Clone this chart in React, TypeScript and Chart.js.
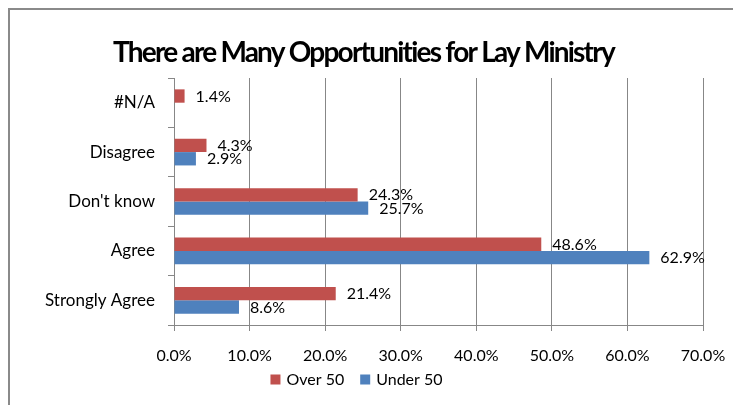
import React, { useEffect, useRef } from "react";
import { Chart, registerables } from "chart.js";

Chart.register(...registerables);

const title = "There are Many Opportunities for Lay Ministry";
const categories = ["#N/A", "Disagree", "Don't know", "Agree", "Strongly Agree"];
const over50 = [1.4, 4.3, 24.3, 48.6, 21.4];
const under50 = [null, 2.9, 25.7, 62.9, 8.6];
const seriesNames = ["Over 50", "Under 50"];
const xTicks = [0, 10, 20, 30, 40, 50, 60, 70];

const RED = "#C0504D";
const BLUE = "#4F81BD";
const GRID = "#878787";
const FONT = "Lato, 'Noto Sans', sans-serif";

const labelPlugin = {
  id: "barValueLabels",
  afterDatasetsDraw(chart: any) {
    const ctx = chart.ctx;
    ctx.save();
    ctx.font = `16px ${FONT}`;
    ctx.fillStyle = "#000";
    ctx.textAlign = "left";
    ctx.textBaseline = "middle";
    chart.data.datasets.forEach((ds: any, di: number) => {
      const meta = chart.getDatasetMeta(di);
      meta.data.forEach((bar: any, i: number) => {
        const v = ds.data[i];
        if (v === null || v === undefined) return;
        ctx.fillText(v.toFixed(1) + "%", bar.x + 11, bar.y + 0.5);
      });
    });
    ctx.restore();
  },
};

const titlePlugin = {
  id: "customTitle",
  afterDraw(chart: any) {
    const ctx = chart.ctx;
    ctx.save();
    ctx.font = `bold 28px ${FONT}`;
    ctx.fillStyle = "#000";
    ctx.textBaseline = "alphabetic";
    ctx.textAlign = "left";
    const natural = ctx.measureText(title).width;
    const target = 503;
    const spacing = (target - natural) / (title.length - 1);
    (ctx as any).letterSpacing = spacing.toFixed(2) + "px";
    const w = ctx.measureText(title).width;
    const cx = 353.5;
    ctx.fillText(title, cx - w / 2, 51.7);
    ctx.restore();
  },
};

const legendPlugin = {
  id: "customLegend",
  afterDraw(chart: any) {
    const ctx = chart.ctx;
    ctx.save();
    ctx.font = `16px ${FONT}`;
    ctx.textBaseline = "middle";
    ctx.textAlign = "left";
    const box = 10;
    const gapText = 6;
    const gapItem = 16;
    const items = chart.data.datasets.map((ds: any) => ({
      text: ds.label,
      color: ds.backgroundColor,
      w: box + gapText + ctx.measureText(ds.label).width,
    }));
    const total = items.reduce((a: number, it: any) => a + it.w, 0) + gapItem * (items.length - 1);
    const cy = 369.5;
    let x = 346.5 - total / 2;
    items.forEach((it: any) => {
      ctx.fillStyle = it.color;
      ctx.fillRect(x, cy - box / 2, box, box);
      ctx.fillStyle = "#000";
      ctx.fillText(it.text, x + box + gapText, cy + 0.5);
      x += it.w + gapItem;
    });
    ctx.restore();
  },
};

export default function App() {
  const ref = useRef<HTMLCanvasElement | null>(null);
  useEffect(() => {
    if (!ref.current) return;
    const chart = new Chart(ref.current, {
      type: "bar",
      data: {
        labels: categories,
        datasets: [
          {
            label: seriesNames[0],
            data: over50,
            backgroundColor: RED,
            borderWidth: 0,
            barPercentage: 1,
            categoryPercentage: 0.54,
          },
          {
            label: seriesNames[1],
            data: under50,
            backgroundColor: BLUE,
            borderWidth: 0,
            barPercentage: 1,
            categoryPercentage: 0.54,
          },
        ],
      },
      options: {
        indexAxis: "y",
        responsive: false,
        animation: false,
        layout: { padding: { top: 68, right: 38, bottom: 30, left: 0 } },
        scales: {
          x: {
            type: "linear",
            min: 0,
            max: 70,
            afterBuildTicks: (s: any) => {
              s.ticks = xTicks.map((v) => ({ value: v }));
            },
            afterFit: (s: any) => {
              s.height = 50;
            },
            grid: { color: GRID, lineWidth: 1, tickLength: 6, drawTicks: true },
            border: { color: GRID, width: 1 },
            ticks: {
              padding: 15,
              color: "#000",
              font: { family: FONT, size: 16 },
              callback: (v: any) => Number(v).toFixed(1) + "%",
            },
          },
          y: {
            type: "category",
            afterFit: (s: any) => {
              s.width = 164;
            },
            grid: { display: true, drawOnChartArea: false, tickLength: 6, color: GRID, offset: true },
            border: { color: GRID, width: 1 },
            ticks: {
              padding: 13,
              color: "#000",
              font: { family: FONT, size: 17 },
            },
          },
        },
        plugins: {
          title: { display: false },
          tooltip: { enabled: false },
          legend: { display: false },
        },
      },
      plugins: [labelPlugin, titlePlugin, legendPlugin],
    } as any);
    return () => chart.destroy();
  }, []);

  return (
    <div
      style={{
        width: 731,
        height: 395,
        borderTop: "2px solid #8a8a8a",
        borderLeft: "2px solid #8a8a8a",
        overflow: "hidden",
        background: "#fff",
      }}
    >
      <canvas ref={ref} width={731} height={395} style={{ display: "block" }} />
    </div>
  );
}
